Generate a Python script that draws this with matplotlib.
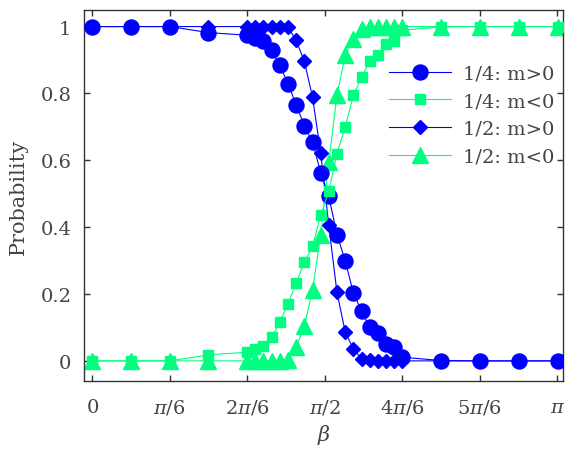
import matplotlib
matplotlib.use("Agg")
import matplotlib.pyplot as plt
import numpy as np

# beta values: coarse grid at the ends, fine grid through the transition
beta = [
    0.000, 0.262, 0.524, 0.785,
    1.047, 1.102, 1.157, 1.212, 1.267, 1.323, 1.378, 1.433, 1.488, 1.543,
    1.598, 1.653, 1.709, 1.764, 1.819, 1.874, 1.929, 1.984, 2.039, 2.094,
    2.356, 2.618, 2.880, 3.142,
]

# 1/4, m>0
p_quarter_pos = [
    1.000, 1.000, 1.000, 0.982,
    0.974, 0.966, 0.957, 0.929, 0.884, 0.829, 0.766, 0.703, 0.655, 0.563,
    0.492, 0.378, 0.299, 0.203, 0.149, 0.101, 0.084, 0.051, 0.041, 0.011,
    0.001, 0.000, 0.000, 0.000,
]

# 1/4, m<0
p_quarter_neg = [
    0.000, 0.000, 0.000, 0.018,
    0.026, 0.036, 0.046, 0.071, 0.116, 0.171, 0.234, 0.295, 0.343, 0.435,
    0.507, 0.620, 0.700, 0.794, 0.849, 0.897, 0.914, 0.949, 0.957, 0.989,
    0.999, 1.000, 1.000, 1.000,
]

# 1/2, m>0
p_half_pos = [
    1.000, 1.000, 1.000, 1.000,
    1.000, 1.000, 1.000, 1.000, 1.000, 0.998, 0.959, 0.896, 0.789, 0.623,
    0.405, 0.205, 0.086, 0.036, 0.006, 0.002, 0.000, 0.000, 0.000, 0.000,
    0.000, 0.000, 0.000, 0.000,
]

# 1/2, m<0
p_half_neg = [
    0.000, 0.000, 0.000, 0.000,
    0.000, 0.000, 0.000, 0.000, 0.000, 0.002, 0.041, 0.104, 0.211, 0.377,
    0.595, 0.795, 0.914, 0.964, 0.994, 0.998, 1.000, 1.000, 1.000, 1.000,
    1.000, 1.000, 1.000, 1.000,
]

x_ticks = [0, np.pi / 6, 2 * np.pi / 6, np.pi / 2, 4 * np.pi / 6, 5 * np.pi / 6, np.pi]
x_tick_labels = [r"$0$", r"$\pi/6$", r"$2\pi/6$", r"$\pi/2$",
                 r"$4\pi/6$", r"$5\pi/6$", r"$\pi$"]
y_ticks = [0, 0.2, 0.4, 0.6, 0.8, 1]
y_tick_labels = ["0", "0.2", "0.4", "0.6", "0.8", "1"]

BLUE = "#0000ff"
GREEN = "#00ff80"
TEXT = "#444444"

plt.rcParams["font.family"] = ["DejaVu Serif"]
plt.rcParams["mathtext.fontset"] = "dejavuserif"

fig = plt.figure(figsize=(5.66, 4.52), dpi=100)
ax = fig.add_axes([0.148, 0.155, 0.847, 0.821])

ax.plot(beta, p_half_pos, color=BLUE, linewidth=0.8, marker="D",
        markersize=7.2, label="1/2: m>0", zorder=2)
ax.plot(beta, p_half_neg, color=GREEN, linewidth=0.8, marker="^",
        markersize=11, label="1/2: m<0", zorder=2)
ax.plot(beta, p_quarter_pos, color=BLUE, linewidth=0.8, marker="o",
        markersize=10.8, label="1/4: m>0", zorder=3)
ax.plot(beta, p_quarter_neg, color=GREEN, linewidth=0.8, marker="s",
        markersize=7, label="1/4: m<0", zorder=4)

ax.set_xlim(-0.056, 3.18)
ax.set_ylim(-0.06, 1.05)

ax.set_xticks(x_ticks)
ax.set_xticklabels(x_tick_labels)
ax.set_yticks(y_ticks)
ax.set_yticklabels(y_tick_labels)

ax.tick_params(direction="in", length=4, width=1, top=True, right=True,
               labelsize=14, colors="#333333", labelcolor=TEXT)
ax.tick_params(axis="x", pad=12)
ax.tick_params(axis="y", pad=9)
for spine in ax.spines.values():
    spine.set_color("#333333")
    spine.set_linewidth(1)

ax.set_xlabel(r"$\beta$", fontsize=15, color=TEXT, labelpad=4)
ax.set_ylabel("Probability", fontsize=15, color=TEXT, labelpad=9)

handles, labels = ax.get_legend_handles_labels()
order = [2, 3, 0, 1]
ax.legend(
    [handles[i] for i in order],
    [labels[i] for i in order],
    loc="upper left",
    bbox_to_anchor=(0.60, 0.90),
    frameon=False,
    fontsize=14,
    handlelength=3.2,
    handletextpad=0.6,
    labelspacing=0.5,
    labelcolor=TEXT,
)

fig.savefig("out.png", dpi=100)
